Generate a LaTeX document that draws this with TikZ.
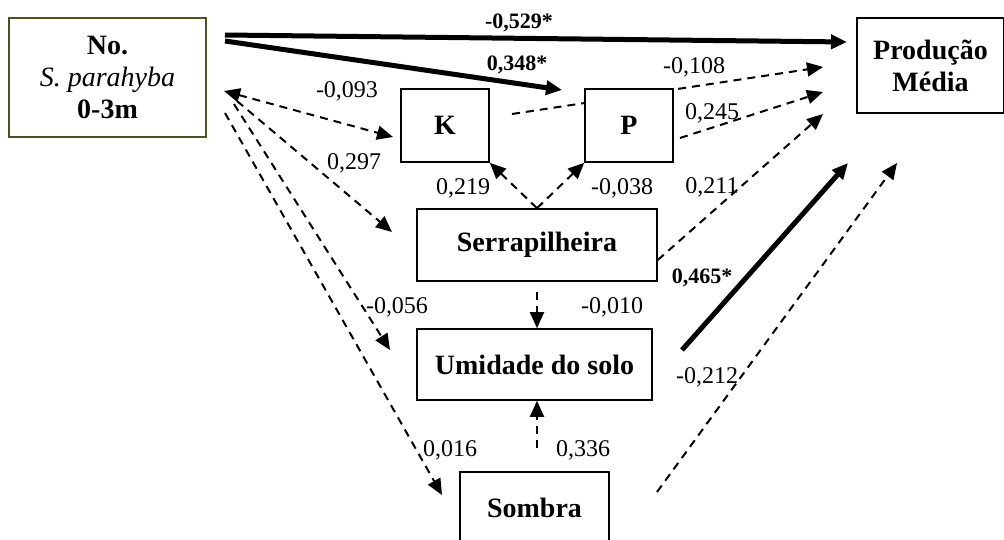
\documentclass[tikz,border=0pt]{standalone}
\usepackage{fontspec}
\setmainfont{Liberation Serif}
\usetikzlibrary{arrows.meta}
\definecolor{olivebox}{RGB}{80,80,30}

\tikzset{
	box/.style={draw,line width=1.6pt,fill=white,inner sep=0pt,align=center,
		font=\fontsize{28}{32}\selectfont\bfseries},
	dpath/.style={line width=2pt,dash pattern=on 8pt off 6pt},
	sig/.style={line width=5pt},
	coef/.style={inner sep=0pt,font=\fontsize{24}{26}\selectfont},
	bcoef/.style={inner sep=0pt,font=\fontsize{22}{24}\selectfont\bfseries},
}

\begin{document}
\begin{tikzpicture}[x=1pt,y=-1pt,>={Triangle[length=16pt,width=14pt]}]
	\useasboundingbox (0,0) rectangle (1004,540);
	\clip (0,0) rectangle (1004,540);

	% free ends of the arrows
	\coordinate (s1) at (225,35);
	\coordinate (s2) at (225,41);
	\coordinate (s3) at (224,91);
	\coordinate (s4) at (237,101);
	\coordinate (s5) at (234,104);
	\coordinate (s6) at (225,113);
	\coordinate (t1) at (847,42);
	\coordinate (t2) at (562,90);
	\coordinate (t3) at (393,137);
	\coordinate (t4) at (392,232);
	\coordinate (t5) at (390,350);
	\coordinate (t6) at (442,495);
	\coordinate (kout) at (512,114);
	\coordinate (pout) at (680,138);
	\coordinate (uout) at (682,350);
	\coordinate (sout) at (657,492);
	\coordinate (m1) at (823,67);
	\coordinate (m2) at (823,92);
	\coordinate (m3) at (823,114);
	\coordinate (m4) at (848,163);
	\coordinate (m5) at (897,163);
	\coordinate (su) at (537,292);
	\coordinate (so) at (537,448);

	% K -> producao passes behind P
	\draw[dpath,->] (kout) -- (m1);

	\node[box,draw=olivebox,minimum width=197pt,minimum height=119pt] (src) at (107.5,77.5)
		{No.\\{\mdseries\itshape S. parahyba}\\0-3m};
	\node[box,minimum width=147pt,minimum height=95pt] (prod) at (930.5,65.5) {Produção\\Média};
	\node[box,minimum width=88pt,minimum height=73pt] (K) at (445,125.5) {K};
	\node[box,minimum width=88pt,minimum height=73pt] (P) at (629,125.5) {P};
	\node[box,minimum width=240pt,minimum height=72pt] (serr) at (537,245) {Serrapilheira};
	\node[box,minimum width=235pt,minimum height=71pt] (umid) at (534.5,364.5) {Umidade do solo};
	\node[box,minimum width=149pt,minimum height=72pt] (somb) at (534.5,508) {Sombra};

	\draw[sig,->] (s1) -- (t1);
	\draw[sig,->] (s2) -- (t2);
	\draw[dpath,<->] (s3) -- (t3);
	\foreach \a/\b in {s4/t4, s5/t5, s6/t6, pout/m2, sout/m5} {
		\draw[dpath,->] (\a) -- (\b);
	};
	\draw[dpath,->] ([yshift=-15pt]serr.east) -- (m3);
	\draw[dpath,->] (serr.north) -- (K.south east);
	\draw[dpath,->] (serr.north) -- (P.south west);
	\draw[dpath,->] (su) -- (su |- umid.north);
	\draw[dpath,->] (so) -- (so |- umid.south);
	\draw[sig,->] (uout) -- (m4);

	% coefficients
	\foreach \n/\x/\y/\t in {c1/347/91/{-0,093}, c2/354/163/{0,297}, c3/397/307/{-0,056},
			c4/450/450/{0,016}, c5/694/67/{-0,108}, c6/712/113/{0,245}, c7/712/187/{0,211},
			c8/463/188/{0,219}, c9/622/188/{-0,038}, c10/612/307/{-0,010}, c11/583/450/{0,336},
			c12/707/377/{-0,212}} {
		\node[coef] (\n) at (\x,\y) {\t};
	};
	\foreach \n/\x/\y/\t in {b1/519/23/{-0,529*}, b2/517/65/{0,348*}, b3/702/278/{0,465*}} {
		\node[bcoef] (\n) at (\x,\y) {\t};
	};
\end{tikzpicture}
\end{document}
